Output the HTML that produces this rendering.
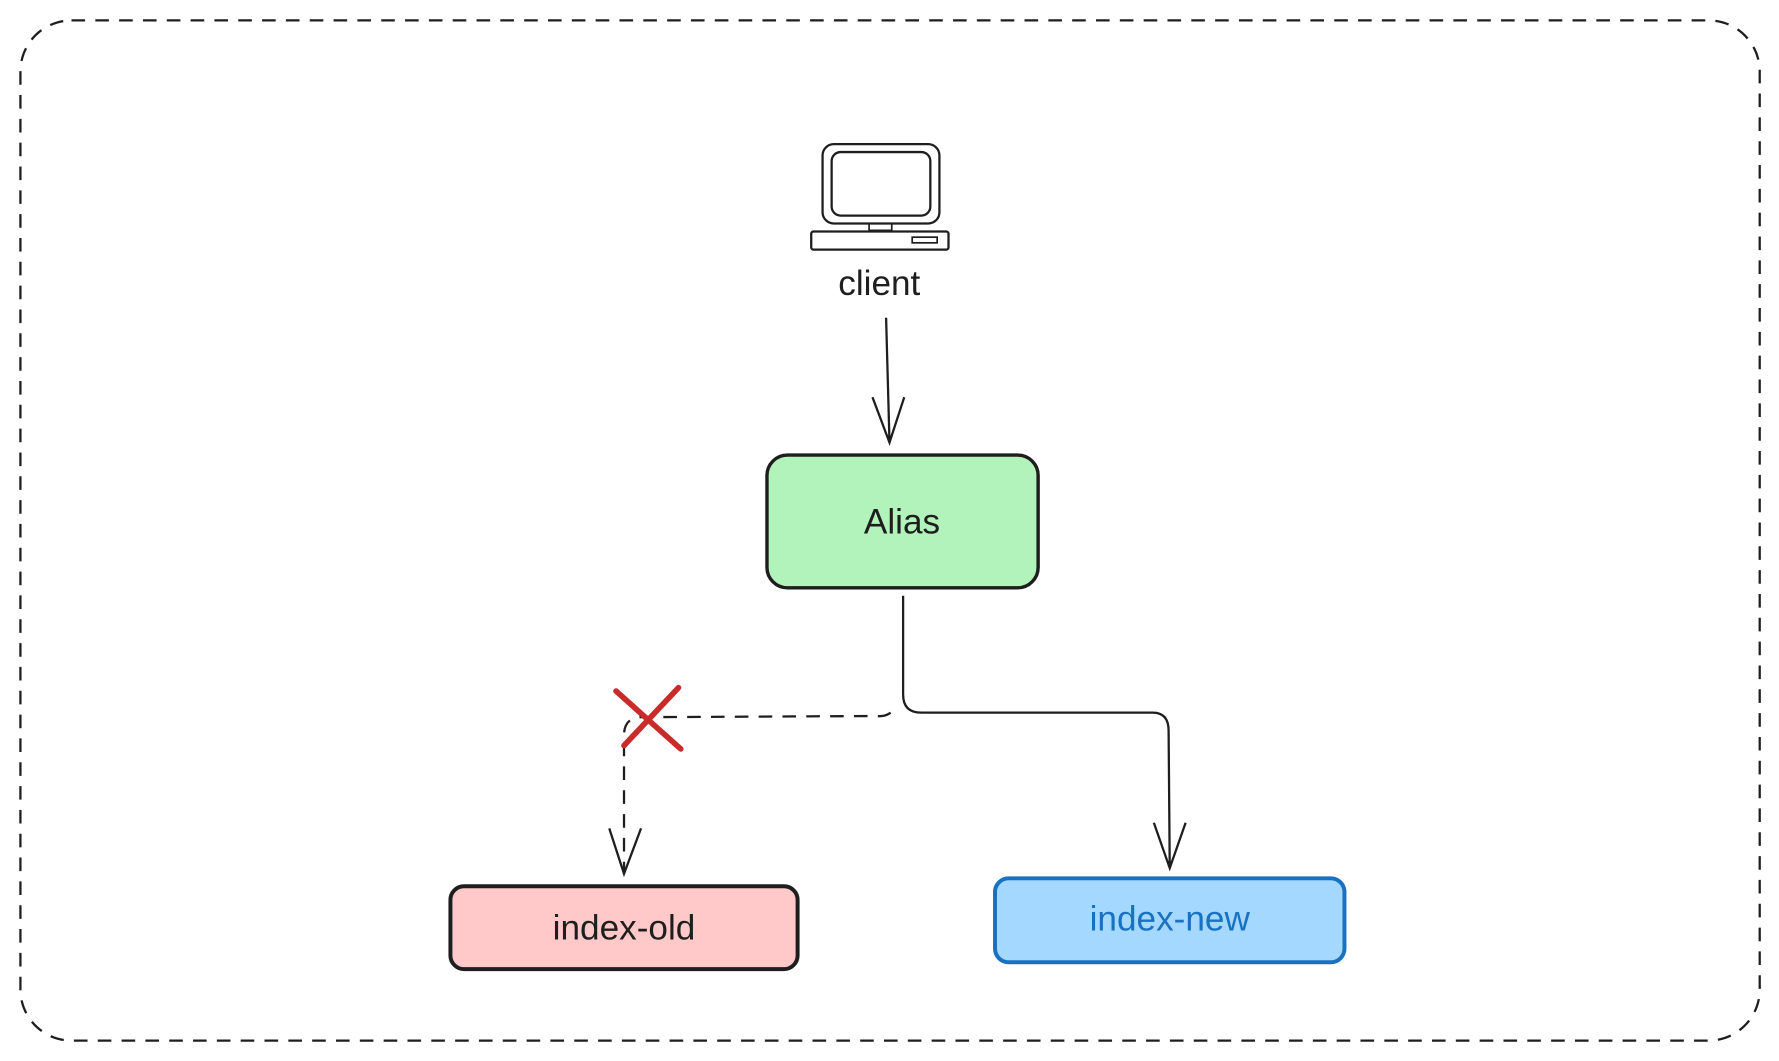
<!DOCTYPE html>
<html><head><meta charset="utf-8"><style>
html,body{margin:0;padding:0;background:#fff;width:1779px;height:1061px;overflow:hidden}
svg{display:block}
text{font-family:"Liberation Sans",sans-serif}
</style></head><body>
<svg width="1779" height="1061" viewBox="0 0 1568 935" preserveAspectRatio="none" xmlns="http://www.w3.org/2000/svg">
<rect x="18" y="18" width="1533" height="899" rx="45" fill="none" stroke="#1e1e1e" stroke-width="2" stroke-dasharray="12 9"/>
<!-- computer -->
<rect x="725" y="127" width="103" height="70" rx="10" fill="none" stroke="#1e1e1e" stroke-width="2"/>
<rect x="733" y="134" width="87" height="56" rx="8" fill="none" stroke="#1e1e1e" stroke-width="2"/>
<rect x="766" y="197" width="20" height="6" fill="none" stroke="#1e1e1e" stroke-width="1.5"/>
<rect x="715" y="204" width="121" height="16" rx="2" fill="none" stroke="#1e1e1e" stroke-width="2"/>
<rect x="804" y="209" width="22" height="5" fill="none" stroke="#1e1e1e" stroke-width="1.5"/>
<text x="775" y="260" font-size="31" text-anchor="middle" fill="#1e1e1e">client</text>
<!-- client arrow -->
<path d="M781 280 L784 390 M769 350 L784 390 L797 350" fill="none" stroke="#1e1e1e" stroke-width="2"/>
<!-- Alias -->
<rect x="676" y="401" width="239" height="117" rx="18" fill="#b2f2bb" stroke="#1e1e1e" stroke-width="3"/>
<text x="795" y="470" font-size="31" text-anchor="middle" fill="#1e1e1e">Alias</text>
<!-- solid path -->
<path d="M796 525 L796 612 Q796 628 812 628 L1016 628 Q1030 628 1030 644 L1031 765 M1017 725 L1031 765 L1045 725" fill="none" stroke="#1e1e1e" stroke-width="2"/>
<!-- dashed path -->
<path d="M785 628 Q780 632 770 631 L566 632 Q550 632 550 648 L550 770" fill="none" stroke="#1e1e1e" stroke-width="2" stroke-dasharray="12 9"/>
<path d="M537 730 L550 770 L565 730" fill="none" stroke="#1e1e1e" stroke-width="2"/>
<!-- red X -->
<path d="M543 609 L600 660 M598 606 L550 657" stroke="#c92a2a" stroke-width="5" stroke-linecap="round"/>
<!-- index-old -->
<rect x="397" y="781" width="306" height="73" rx="12" fill="#ffc9c9" stroke="#1e1e1e" stroke-width="3.5"/>
<text x="550" y="828" font-size="31" text-anchor="middle" fill="#1e1e1e">index-old</text>
<!-- index-new -->
<rect x="877" y="774" width="308" height="74" rx="12" fill="#a5d8ff" stroke="#1971c2" stroke-width="3.5"/>
<text x="1031" y="820" font-size="31" text-anchor="middle" fill="#1971c2">index-new</text>
</svg>
</body></html>
